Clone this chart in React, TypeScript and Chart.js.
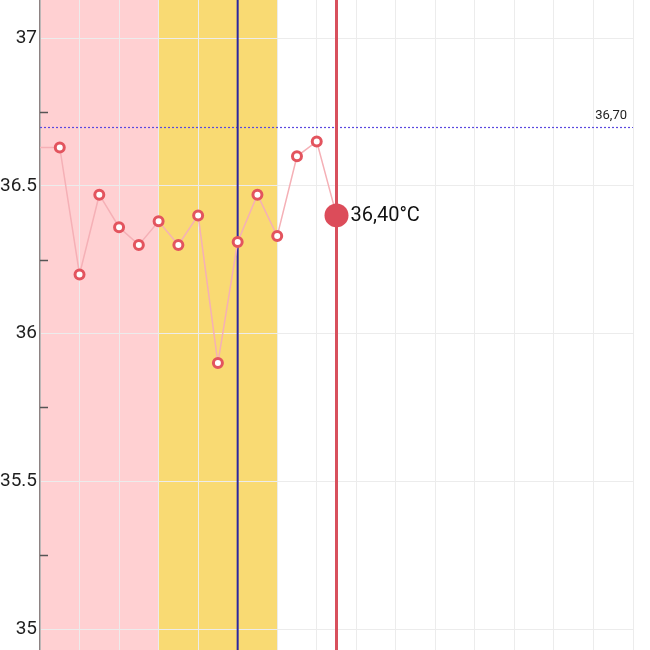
import React, { useEffect, useRef } from "react";
import { Chart, registerables } from "chart.js";

Chart.register(...registerables);

// Cycle days and basal body temperatures (°C)
const DAYS = [-1, 1, 2, 3, 4, 5, 6, 7, 8, 9, 10, 11, 12, 13, 14, 15];
const TEMPS = [36.63, 36.63, 36.2, 36.47, 36.36, 36.3, 36.38, 36.3, 36.4, 35.9, 36.31, 36.47, 36.33, 36.6, 36.65, 36.4];

const PERIOD_BAND = [0, 6];
const FERTILE_BAND = [6, 12];
const OVULATION_DAY = 10;
const TODAY_DAY = 15;
const COVERLINE = 36.7;
const COVERLINE_LABEL = "36,70";
const TODAY_LABEL = "36,40°C";

// y axis: labelled ticks and minor ticks
const Y_TICK_VALUES = [35, 35.5, 36, 36.5, 37];
const Y_TICK_LABELS = ["35", "35.5", "36", "36.5", "37"];
const Y_MINOR_TICKS = [35.25, 35.75, 36.25, 36.75];

const X_MIN = 0;
const X_MAX = 30;
const Y_MIN = 34.929;
const Y_MAX = 37.129;

export default function App() {
  const ref = useRef<HTMLCanvasElement>(null);

  useEffect(() => {
    if (!ref.current) return;
    const lastIdx = TEMPS.length - 1;

    const bandsPlugin = {
      id: "bands",
      beforeDraw(chart: any) {
        const { ctx, chartArea, scales } = chart;
        const x = scales.x;
        ctx.save();
        const drawBand = (b: number[], color: string) => {
          const x0 = x.getPixelForValue(b[0]);
          const x1 = x.getPixelForValue(b[1]);
          ctx.fillStyle = color;
          ctx.fillRect(x0, chartArea.top, x1 - x0, chartArea.bottom - chartArea.top);
        };
        drawBand(PERIOD_BAND, "#ffd0d2");
        drawBand(FERTILE_BAND, "#f9da73");
        ctx.restore();
      },
    };

    const markersPlugin = {
      id: "markers",
      beforeDatasetsDraw(chart: any) {
        const { ctx, chartArea, scales } = chart;
        const x = scales.x;
        const y = scales.y;
        ctx.save();
        // y tick labels
        ctx.fillStyle = "#1e1e1e";
        ctx.font = "19px Roboto";
        ctx.textAlign = "right";
        ctx.textBaseline = "middle";
        Y_TICK_VALUES.forEach((v, i) => {
          ctx.fillText(Y_TICK_LABELS[i], chartArea.left - 3, y.getPixelForValue(v));
        });
        // minor ticks inside plot
        ctx.strokeStyle = "#555";
        ctx.lineWidth = 1.5;
        Y_MINOR_TICKS.forEach((v) => {
          const py = Math.round(y.getPixelForValue(v)) + 0.5;
          ctx.beginPath();
          ctx.moveTo(chartArea.left, py);
          ctx.lineTo(chartArea.left + 8, py);
          ctx.stroke();
        });
        // coverline
        const cy = Math.round(y.getPixelForValue(COVERLINE)) + 0.5;
        ctx.strokeStyle = "#5a48e0";
        ctx.lineWidth = 1.2;
        ctx.setLineDash([2, 2]);
        ctx.beginPath();
        ctx.moveTo(chartArea.left, cy);
        ctx.lineTo(chartArea.right, cy);
        ctx.stroke();
        ctx.setLineDash([]);
        ctx.fillStyle = "#222";
        ctx.font = "13px Roboto";
        ctx.textAlign = "right";
        ctx.textBaseline = "bottom";
        ctx.fillText(COVERLINE_LABEL, chartArea.right - 6, cy - 5);
        // ovulation line
        const ox = x.getPixelForValue(OVULATION_DAY);
        ctx.strokeStyle = "#2a27a0";
        ctx.lineWidth = 2;
        ctx.beginPath();
        ctx.moveTo(ox, chartArea.top);
        ctx.lineTo(ox, chartArea.bottom);
        ctx.stroke();
        // today line
        const tx = x.getPixelForValue(TODAY_DAY);
        ctx.strokeStyle = "#d8505d";
        ctx.lineWidth = 3;
        ctx.beginPath();
        ctx.moveTo(tx, chartArea.top);
        ctx.lineTo(tx, chartArea.bottom);
        ctx.stroke();
        ctx.restore();
      },
      afterDatasetsDraw(chart: any) {
        const { ctx, scales } = chart;
        const px = scales.x.getPixelForValue(DAYS[lastIdx]);
        const py = scales.y.getPixelForValue(TEMPS[lastIdx]);
        ctx.save();
        ctx.fillStyle = "#111";
        ctx.font = "20px Roboto";
        ctx.textAlign = "left";
        ctx.textBaseline = "middle";
        ctx.fillText(TODAY_LABEL, px + 14, py + 1);
        ctx.restore();
      },
    };

    const chart = new Chart(ref.current, {
      type: "line",
      data: {
        datasets: [
          {
            data: DAYS.map((d, i) => ({ x: d, y: TEMPS[i] })),
            borderColor: "#f5b0b6",
            borderWidth: 1.5,
            tension: 0,
            pointRadius: (c: any) => (c.dataIndex === lastIdx ? 12 : 4.5),
            pointBorderWidth: (c: any) => (c.dataIndex === lastIdx ? 0 : 3),
            pointBackgroundColor: (c: any) => (c.dataIndex === lastIdx ? "#dc4c5a" : "#ffffff"),
            pointBorderColor: "#e3545e",
          } as any,
        ],
      },
      options: {
        animation: false,
        responsive: true,
        maintainAspectRatio: false,
        layout: { autoPadding: false, padding: { left: 0, right: 17, top: 0, bottom: 0 } },
        plugins: { legend: { display: false }, tooltip: { enabled: false } },
        scales: {
          x: {
            type: "linear",
            min: X_MIN,
            max: X_MAX,
            ticks: { display: false, stepSize: 2 },
            border: { display: false },
            grid: { color: "#ececec", drawTicks: false, lineWidth: 1 },
            afterFit(scale: any) {
              scale.height = 0;
            },
          },
          y: {
            type: "linear",
            min: Y_MIN,
            max: Y_MAX,
            afterBuildTicks(scale: any) {
              scale.ticks = Y_TICK_VALUES.map((v) => ({ value: v }));
            },
            ticks: { display: false },
            border: { display: true, color: "#8d8282", width: 1.5 },
            grid: { drawTicks: false, color: "#ececec" },
            afterFit(scale: any) {
              scale.width = 40;
            },
          },
        },
      } as any,
      plugins: [bandsPlugin, markersPlugin],
    });

    return () => chart.destroy();
  }, []);

  return (
    <div style={{ position: "fixed", left: 0, top: 0, width: 650, height: 650, background: "#fff" }}>
      <canvas ref={ref} />
    </div>
  );
}
